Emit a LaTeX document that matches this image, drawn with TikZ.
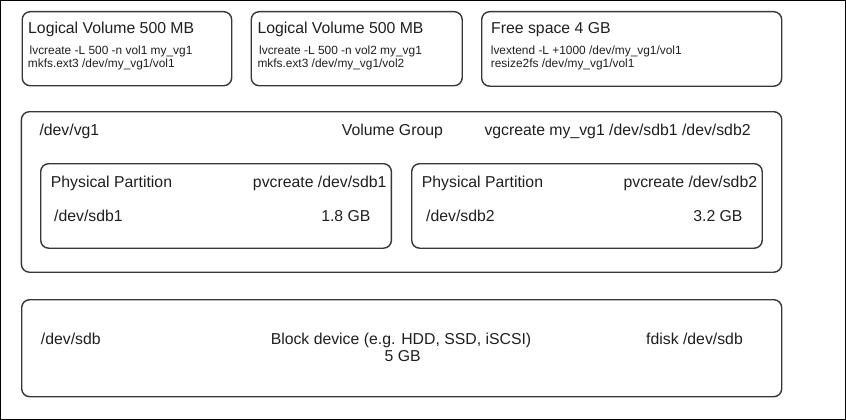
\documentclass[tikz,border=0pt]{standalone}
\usepackage{fontspec}
\setmainfont{Liberation Sans}
\begin{document}
\begin{tikzpicture}[x=1pt,y=-1pt,
  box/.style={draw=black!78, line width=1.4pt, rounded corners=8pt, inner sep=0pt, anchor=north west},
  big/.style={font=\fontsize{15.8}{17.5}\selectfont, inner sep=0pt, anchor=base west, text=black!88},
  small/.style={font=\fontsize{11.9}{12}\selectfont, inner sep=0pt, anchor=base west, text=black!88}]
\useasboundingbox (0,0) rectangle (846,420);
\draw[black, line width=1pt] (0.5,0.5) rectangle (845.2,419.3);
% boxes
\node[box, minimum width=209.5pt, minimum height=74pt] (lv1) at (21.5,11) {};
\node[box, minimum width=211pt, minimum height=74pt] (lv2) at (250.5,11) {};
\node[box, minimum width=300pt, minimum height=74.5pt] (free) at (481,11) {};
\node[box, minimum width=760.3pt, minimum height=160.5pt] (vg) at (20.7,111) {};
\node[box, minimum width=350.7pt, minimum height=84.5pt] (pp1) at (40,163) {};
\node[box, minimum width=350.5pt, minimum height=84.5pt] (pp2) at (411,163) {};
\node[box, minimum width=760pt, minimum height=97pt] (blk) at (21,299) {};
% logical volumes
\node[big] (lv1h) at (28,34) {Logical Volume 500 MB};
\node[small] (lv1a) at (29.5,54.5) {lvcreate -L 500 -n vol1 my\_vg1};
\node[small] (lv1b) at (27.7,67) {mkfs.ext3 /dev/my\_vg1/vol1};
\node[big] (lv2h) at (257.3,34) {Logical Volume 500 MB};
\node[small] (lv2a) at (259,54.5) {lvcreate -L 500 -n vol2 my\_vg1};
\node[small] (lv2b) at (257.3,67) {mkfs.ext3 /dev/my\_vg1/vol2};
\node[big] (frh) at (491,34) {Free space 4 GB};
\node[small] (fra) at (490.7,54.5) {lvextend -L +1000 /dev/my\_vg1/vol1};
\node[small] (frb) at (490.7,67) {resize2fs /dev/my\_vg1/vol1};
% volume group
\node[big] (vgdev) at (39.3,135.7) {/dev/vg1};
\node[big] (vgt) at (341.7,135.7) {Volume Group};
\node[big] (vgc) at (484.3,135.7) {vgcreate my\_vg1 /dev/sdb1 /dev/sdb2};
% partitions
\node[big] (pp1h) at (50.7,187.3) {Physical Partition};
\node[big, anchor=base east] (pp1c) at (386.7,187.3) {pvcreate /dev/sdb1};
\node[big] (pp1d) at (54,221.7) {/dev/sdb1};
\node[big, anchor=base east] (pp1s) at (370.7,221.7) {1.8 GB};
\node[big] (pp2h) at (421.7,187.3) {Physical Partition};
\node[big, anchor=base east] (pp2c) at (757.3,187.3) {pvcreate /dev/sdb2};
\node[big] (pp2d) at (426,221.7) {/dev/sdb2};
\node[big, anchor=base east] (pp2s) at (742.7,221.7) {3.2 GB};
% block device
\node[big] (bd) at (40.7,344) {/dev/sdb};
\node[big, anchor=base] (bt) at (401,344) {Block device (e.g. HDD, SSD, iSCSI)};
\node[big, anchor=base] (bs) at (402.7,361.7) {5 GB};
\node[big] (bf) at (646,344) {fdisk /dev/sdb};
\end{tikzpicture}
\end{document}
